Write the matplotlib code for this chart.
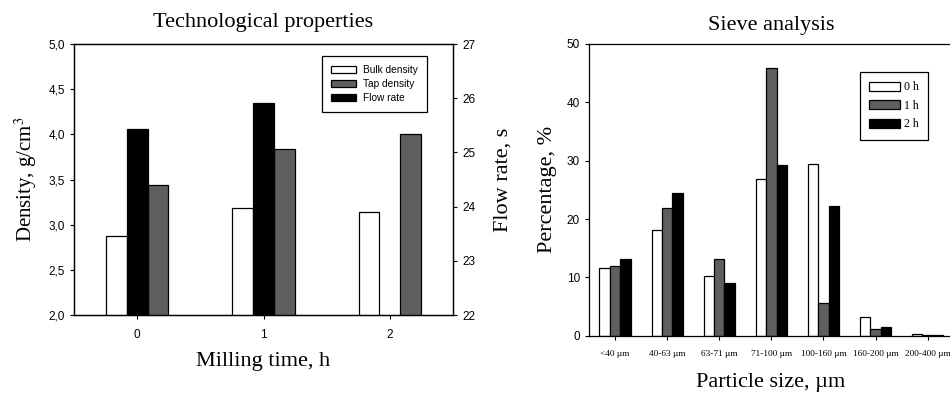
import numpy as np
import matplotlib
matplotlib.use("Agg")
import matplotlib.pyplot as plt

plt.rcParams['font.family'] = ['Liberation Sans', 'DejaVu Sans']
plt.rcParams['mathtext.fontset'] = 'stix'

SERIF = ['Liberation Serif', 'DejaVu Serif']
GRAY = '#5f5f5f'

# left chart data
milling_time = [0, 1, 2]
bulk_density = [2.87, 3.18, 3.14]
tap_density = [3.44, 3.84, 4.00]
flow_rate = [25.43, 25.92, np.nan]
density_ticks = [2.0, 2.5, 3.0, 3.5, 4.0, 4.5, 5.0]
density_ticklabels = ['2,0', '2,5', '3,0', '3,5', '4,0', '4,5', '5,0']

# right chart data
size_classes = ['<40 µm', '40-63 µm', '63-71 µm', '71-100 µm',
                '100-160 µm', '160-200 µm', '200-400 µm']
pct_0h = [11.55, 18.2, 10.2, 26.9, 29.4, 3.26, 0.35]
pct_1h = [11.95, 21.9, 13.2, 45.9, 5.55, 1.2, 0.2]
pct_2h = [13.1, 24.5, 9.1, 29.3, 22.3, 1.43, 0.2]

fig = plt.figure(figsize=(9.5, 3.94), dpi=100)

# ---- Technological properties ----
ax = fig.add_axes([0.0779, 0.2005, 0.399, 0.6878])
ax2 = ax.twinx()
x = np.arange(len(milling_time))
w = 0.165
b1 = ax.bar(x - w, bulk_density, w, color='white', edgecolor='black',
            linewidth=0.9, zorder=2)
b2 = ax.bar(x + w, tap_density, w, color=GRAY, edgecolor='black',
            linewidth=0.9, zorder=2)
b3 = ax2.bar(x, flow_rate, w, color='black', edgecolor='black',
             linewidth=0.9, zorder=2)
ax.set_xlim(-0.5, 2.5)
ax.set_ylim(2.0, 5.0)
ax2.set_ylim(22, 27)
ax.set_xticks(x)
ax.set_xticklabels([str(m) for m in milling_time])
ax.set_yticks(density_ticks)
ax.set_yticklabels(density_ticklabels)
ax2.set_yticks([22, 23, 24, 25, 26, 27])
for a in (ax, ax2):
    a.tick_params(labelsize=8.5, length=3, width=0.8, direction='out')
    for s in a.spines.values():
        s.set_linewidth(0.9)
ax.tick_params(axis='x', pad=7)
ax.set_title('Technological properties', fontsize=16, family=SERIF,
             y=1.081, va='center', pad=0)
ax.set_xlabel('Milling time, h', fontsize=16, family=SERIF)
ax.xaxis.set_label_coords(0.5, -0.173)
ax.xaxis.label.set_va('center')
ax.set_ylabel('Density, g/cm$^3$', fontsize=15, family=SERIF, va='center')
ax.yaxis.set_label_coords(-0.127, 0.5)
ax2.set_ylabel('Flow rate, s', fontsize=16, family=SERIF, va='center')
ax2.yaxis.set_label_coords(1.132, 0.5)
leg = ax.legend([b1, b2, b3], ['Bulk density', 'Tap density', 'Flow rate'],
                loc='upper left', bbox_to_anchor=(322 / 950, 1 - 56 / 394),
                bbox_transform=fig.transFigure, fontsize=7.3, fancybox=False,
                framealpha=1, edgecolor='black', handlelength=2.5,
                handleheight=0.7, labelspacing=0.4, borderpad=0.9,
                handletextpad=0.6, borderaxespad=0)
leg.get_frame().set_linewidth(0.9)

# ---- Sieve analysis ----
bx = fig.add_axes([0.62, 0.148, 0.3839, 0.7404])
xs = np.arange(len(size_classes))
w2 = 0.2
c0 = bx.bar(xs - w2, pct_0h, w2, color='white', edgecolor='black', linewidth=0.9)
c1 = bx.bar(xs, pct_1h, w2, color=GRAY, edgecolor='black', linewidth=0.9)
c2 = bx.bar(xs + w2, pct_2h, w2, color='black', edgecolor='black', linewidth=0.9)
bx.set_xlim(-0.5, 6.5)
bx.set_ylim(0, 50)
bx.set_yticks([0, 10, 20, 30, 40, 50])
bx.set_xticks(xs)
bx.set_xticklabels(size_classes, fontsize=6.7, family=SERIF)
bx.tick_params(axis='y', labelsize=8.5)
bx.tick_params(length=3, width=0.8, direction='out')
bx.tick_params(axis='x', pad=7)
bx.spines['right'].set_visible(False)
for s in bx.spines.values():
    s.set_linewidth(0.9)
bx.set_title('Sieve analysis', fontsize=16, family=SERIF, y=1.065,
             va='center', pad=0)
bx.set_xlabel('Particle size, µm', fontsize=16, family=SERIF)
bx.xaxis.label.set_va('center')
bx.xaxis.set_label_coords((771 - 589) / 364.7, -0.162)
bx.set_ylabel('Percentage, %', fontsize=16, family=SERIF, va='center')
bx.yaxis.set_label_coords(-0.114, 0.5)
leg2 = bx.legend([c0, c1, c2], ['0 h', '1 h', '2 h'], loc='upper left',
                 bbox_to_anchor=(860 / 950, 1 - 72 / 394),
                 bbox_transform=fig.transFigure,
                 prop={'family': SERIF, 'size': 8.5}, fancybox=False,
                 framealpha=1, edgecolor='black', handlelength=2.6,
                 handleheight=0.8, labelspacing=0.55, borderpad=0.8,
                 handletextpad=0.35, borderaxespad=0)
leg2.get_frame().set_linewidth(0.9)

fig.savefig('out.png', dpi=100)
